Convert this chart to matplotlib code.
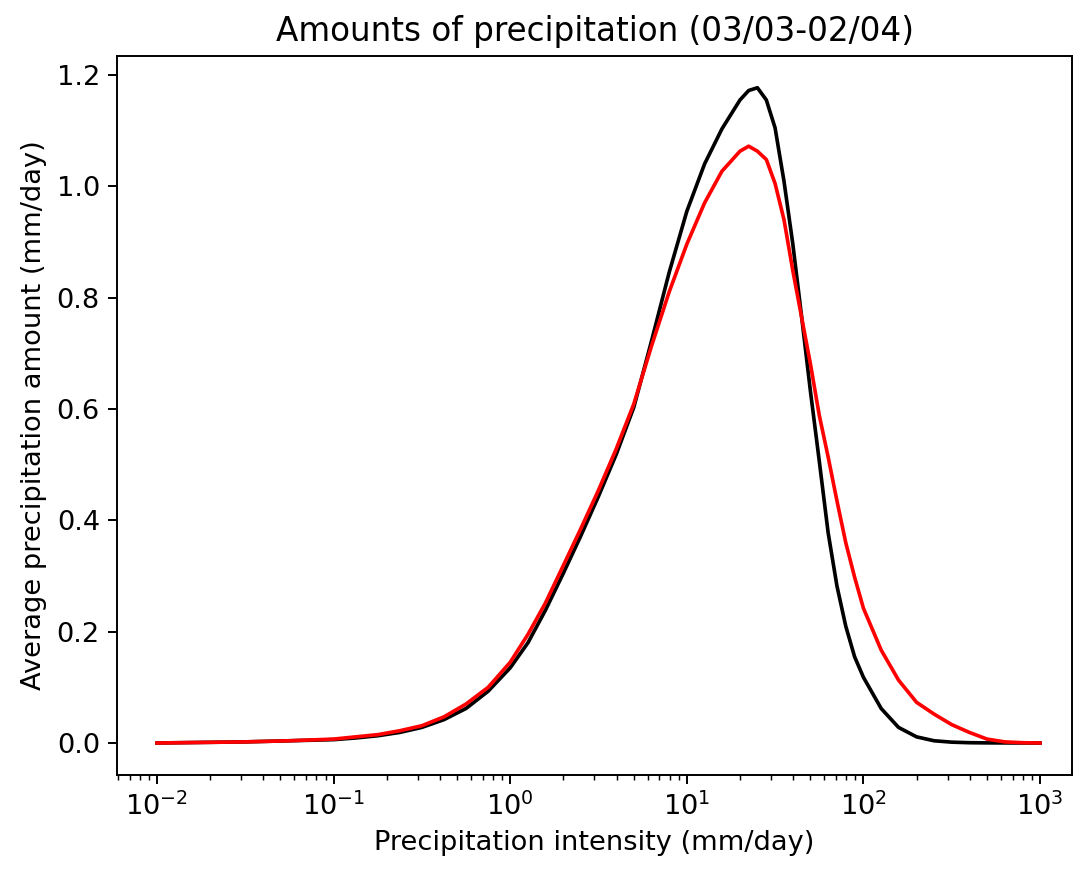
import numpy as np
import matplotlib
matplotlib.use("Agg")
import matplotlib.pyplot as plt

# Precipitation intensity (mm/day), log-spaced sample points
intensity = [0.01, 0.0178, 0.0316, 0.0562, 0.1, 0.133, 0.178, 0.237, 0.316,
             0.422, 0.562, 0.75, 1.0, 1.26, 1.58, 2.0, 2.51,
             3.16, 3.98, 5.01, 6.31, 7.94, 10.0, 12.6, 15.8, 20.0, 22.4, 25.1,
             28.2, 31.6, 35.5, 39.8, 44.7, 50.1, 56.2, 63.1, 70.8, 79.4, 89.1,
             100.0, 126.0, 158.0, 200.0, 251.0, 316.0, 398.0, 501.0, 631.0,
             794.0, 1000.0]

black_amount = [0.0, 0.001, 0.002, 0.004, 0.006, 0.009, 0.013, 0.019, 0.028,
                0.042, 0.062, 0.093, 0.135, 0.180, 0.238,
                0.305, 0.372, 0.443, 0.518, 0.603, 0.722, 0.845, 0.955, 1.040,
                1.103, 1.155, 1.172, 1.177, 1.155, 1.105, 1.009, 0.897, 0.765,
                0.632, 0.507, 0.378, 0.282, 0.210, 0.155, 0.118, 0.062, 0.028,
                0.011, 0.004, 0.0015, 0.0005, 0.0002, 0.0001, 0.0, 0.0]

red_amount = [0.0, 0.001, 0.002, 0.004, 0.007, 0.011, 0.015, 0.022, 0.031,
              0.047, 0.070, 0.100, 0.145, 0.195, 0.251,
              0.319, 0.385, 0.454, 0.528, 0.609, 0.713, 0.810, 0.896, 0.970,
              1.027, 1.063, 1.072, 1.063, 1.048, 1.005, 0.940, 0.849, 0.764,
              0.681, 0.589, 0.514, 0.435, 0.360, 0.298, 0.242, 0.167, 0.113,
              0.073, 0.052, 0.033, 0.019, 0.007, 0.002, 0.0005, 0.0]

title = "Amounts of precipitation (03/03-02/04)"
xlabel = "Precipitation intensity (mm/day)"
ylabel = "Average precipitation amount (mm/day)"

DPI = 175
FS = 1.12
fig = plt.figure(figsize=(1073 / DPI, 871 / DPI), dpi=DPI)
ax = fig.add_axes([117 / 1073, 96 / 871, (1072 - 117) / 1073, (775 - 56) / 871])

ax.plot(intensity, black_amount, color="black")
ax.plot(intensity, red_amount, color="red")
ax.set_xscale("log")
ax.set_xlim(10 ** -2.2265, 10 ** 3.181)
ax.set_ylim(-0.0575, 1.234)
ax.set_yticks([0.0, 0.2, 0.4, 0.6, 0.8, 1.0, 1.2])
ax.tick_params(labelsize=10 * FS)
ax.set_title(title, fontsize=12 * FS)
ax.set_xlabel(xlabel, fontsize=10 * FS)
ax.set_ylabel(ylabel, fontsize=10 * FS)

fig.savefig("out.png", dpi=DPI)
